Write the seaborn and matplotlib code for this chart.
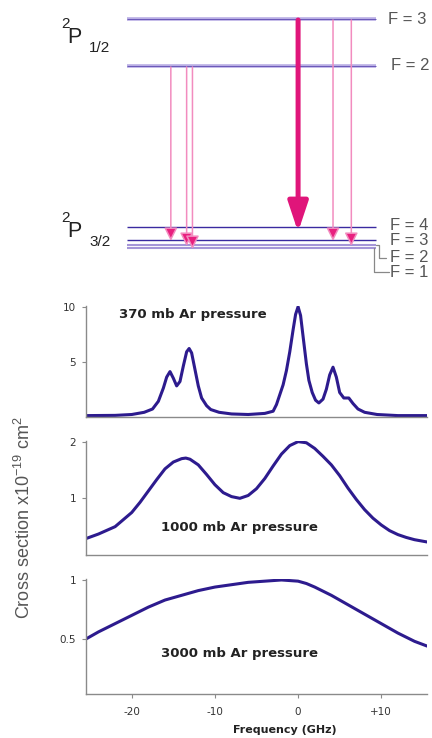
import pandas as pd
import matplotlib.pyplot as plt
import seaborn as sns

# spectra: frequency (GHz) vs cross section (x1e-19 cm^2)
freq_370 = [-25.5, -22, -20, -18.5, -17.5, -16.8, -16.2, -15.8, -15.4, -15.0, -14.6, -14.2,
            -13.8, -13.4, -13.1, -12.8, -12.4, -12.0, -11.6, -11.0, -10.5, -9.5, -8, -6,
            -4, -3, -2.6, -1.8, -1.4, -1.0, -0.6, -0.3, 0.0, 0.3, 0.6, 1.0, 1.3, 1.7,
            2.1, 2.5, 3.0, 3.4, 3.8, 4.2, 4.6, 5.0, 5.5, 6.1, 6.6, 7.2, 8.0, 9.5, 12, 15.5]
xs_370 = [0.1, 0.12, 0.2, 0.4, 0.7, 1.4, 2.6, 3.6, 4.1, 3.5, 2.8, 3.2,
          4.6, 5.9, 6.2, 5.8, 4.3, 2.8, 1.7, 1.0, 0.65, 0.4, 0.25, 0.2,
          0.3, 0.5, 1.1, 2.9, 4.2, 5.9, 7.9, 9.3, 10.0, 9.2, 7.3, 4.8, 3.3, 2.2,
          1.5, 1.25, 1.6, 2.5, 3.8, 4.5, 3.6, 2.2, 1.7, 1.7, 1.2, 0.7, 0.4, 0.2, 0.1, 0.1]

freq_1000 = [-25.5, -24, -22, -20, -19, -18, -17, -16, -15, -14, -13.5, -13, -12, -11,
             -10, -9, -8, -7, -6, -5, -4, -3, -2, -1, 0, 1, 2, 3, 4, 5, 6, 7, 8, 9,
             10, 11, 12, 13, 14, 15.5]
xs_1000 = [0.29, 0.37, 0.5, 0.75, 0.93, 1.13, 1.33, 1.52, 1.64, 1.70, 1.71, 1.69, 1.59, 1.42,
           1.24, 1.10, 1.03, 1.0, 1.05, 1.17, 1.35, 1.57, 1.78, 1.93, 2.0, 1.98, 1.88, 1.74,
           1.59, 1.40, 1.18, 0.98, 0.80, 0.65, 0.53, 0.43, 0.36, 0.31, 0.27, 0.23]

freq_3000 = [-25.5, -24, -22, -20, -18, -16, -14, -12, -10, -8, -6, -4, -2, 0, 1, 2,
             4, 6, 8, 10, 12, 14, 15.5]
xs_3000 = [0.5, 0.56, 0.63, 0.70, 0.77, 0.83, 0.87, 0.91, 0.94, 0.96, 0.98, 0.99, 1.0,
           0.99, 0.97, 0.94, 0.87, 0.79, 0.71, 0.63, 0.55, 0.48, 0.44]

pressure_labels = ["370 mb Ar pressure", "1000 mb Ar pressure", "3000 mb Ar pressure"]

# hyperfine level diagram (level heights in arbitrary diagram units, downwards)
upper_F = [3, 2]
upper_level = [19, 66]
lower_F = [4, 3, 2, 1]
lower_level = [227, 240, 245, 248]
# transitions: frequency offset (GHz), upper F, lower F, strong?
arrow_freq = [-15.3, -13.4, -12.7, 0.0, 4.2, 6.4]
arrow_from = [2, 2, 2, 3, 3, 3]
arrow_to = [3, 2, 1, 4, 3, 2]
arrow_strong = [False, False, False, True, False, False]

sns.set_style("ticks")
plt.rcParams['font.family'] = ['DejaVu Sans']
plt.rcParams['mathtext.default'] = 'regular'

W, H = 432, 738
fig = plt.figure(figsize=(W / 100, H / 100), dpi=100)


def px_axes(l, t, r, b):
    return fig.add_axes([l / W, 1 - b / H, (r - l) / W, (b - t) / H])


def fx(x):
    return x / W


def fy(y):
    return 1 - y / H


XLIM = (-25.5, 15.5)
line_col = "#2d1b8e"
spine_col = "#8a8a8a"

# ---- level diagram ----
ax0 = px_axes(86, 0, 427, 280)
ax0.set_xlim(*XLIM)
ax0.set_ylim(280, 0)
ax0.axis("off")

up = dict(zip(upper_F, upper_level))
lo = dict(zip(lower_F, lower_level))
x0, x1 = -20.6, 9.4
for y in upper_level:
    ax0.hlines(y, x0, x1, color="#b9aee4", lw=2.6)
    ax0.hlines(y, x0, x1, color="#6a58b8", lw=0.7)
for F, y in zip(lower_F, lower_level):
    if F >= 3:
        ax0.hlines(y, x0, x1, color="#3a2aa0", lw=1.0)
    else:
        ax0.hlines(y, x0, x1, color="#a596d8", lw=1.5)

for f, a, b, strong in zip(arrow_freq, arrow_from, arrow_to, arrow_strong):
    if strong:
        props = dict(arrowstyle="-|>,head_length=1.8,head_width=0.6", lw=3.6,
                     color="#e0157a", shrinkA=0, shrinkB=0)
        end = lo[b] + 5
    else:
        props = dict(arrowstyle="-|>,head_length=0.8,head_width=0.4", lw=1.1,
                     ec="#f28cbf", fc="#e8207f", shrinkA=0, shrinkB=0)
        end = lo[b] + 1
    ax0.annotate("", xy=(f, end), xytext=(f, up[a] + 1), arrowprops=props)

lab_kw = dict(fontsize=12, color="#555555", va="center", family="Liberation Sans",
              clip_on=False)
ax0.text(10.8, 19, "F = 3", **lab_kw)
ax0.text(11.2, 66, "F = 2", **lab_kw)
ax0.text(11.1, 225, "F = 4", **lab_kw)
ax0.text(11.1, 240, "F = 3", **lab_kw)
ax0.text(11.1, 257, "F = 2", **lab_kw)
ax0.text(11.1, 272, "F = 1", **lab_kw)
ax0.plot([9.4, 9.7, 9.7, 10.6], [245, 245, 258, 258], color="#888888", lw=0.9,
         clip_on=False)
ax0.plot([9.15, 9.15, 10.9], [248, 272, 272], color="#888888", lw=0.9, clip_on=False)

# term symbols, built from pieces (baseline positions in pixels)
term_kw = dict(color="#222222", family="Liberation Sans", ha="left", va="baseline")
for base, sub in [(43, "1/2"), (237, "3/2")]:
    fig.text(fx(61), fy(base - 15), "2", fontsize=11, **term_kw)
    fig.text(fx(67), fy(base), "P", fontsize=15.5, **term_kw)
    fig.text(fx(89), fy(base + 9), sub, fontsize=11, **term_kw)

# ---- spectra ----
spectra = [(freq_370, xs_370), (freq_1000, xs_1000), (freq_3000, xs_3000)]
boxes = [(305.6, 416.7), (440.5, 555), (578.8, 694.3)]
ylims = [(0, 10.1), (0, 2.02), (0.031, 1.01)]
yticks = [([5, 10], ["5", "10"]), ([1, 2], ["1", "2"]), ([0.5, 1], ["0.5", "1"])]
text_pos = [(-12.65, 9.25), (-7.05, 0.49), (-7.05, 0.373)]

axes = []
for i, ((fr, xs), (t, b)) in enumerate(zip(spectra, boxes)):
    ax = px_axes(86, t, 427, b)
    df = pd.DataFrame({"freq": fr, "xs": xs})
    sns.lineplot(data=df, x="freq", y="xs", ax=ax, color=line_col, lw=2.2)
    ax.set_xlim(*XLIM)
    ax.set_ylim(*ylims[i])
    sns.despine(ax=ax)
    for s in ["left", "bottom"]:
        ax.spines[s].set_color(spine_col)
        ax.spines[s].set_linewidth(1.0)
    ax.set_yticks(yticks[i][0])
    ax.set_yticklabels(yticks[i][1])
    ax.tick_params(axis="y", direction="out", length=3, color=spine_col,
                   labelsize=7.5, labelcolor="#333333", pad=4)
    if i < 2:
        ax.set_xticks([])
    else:
        ax.set_xticks([-20, -10, 0, 10])
        ax.set_xticklabels(["-20", "-10", "0", "+10"])
        ax.tick_params(axis="x", direction="out", length=3, color=spine_col,
                       labelsize=7.5, labelcolor="#333333", pad=6)
    ax.set_xlabel("")
    ax.set_ylabel("")
    tx, ty = text_pos[i]
    ax.text(tx, ty, pressure_labels[i], ha="center", va="center", fontsize=9.5,
            fontweight="bold", color="#222222")
    axes.append(ax)

fig.text(fx(285), fy(730), "Frequency (GHz)", ha="center", va="center",
         fontsize=8, fontweight="bold", color="#222222")
fig.text(fx(24), fy(518), "Cross section x10$^{-19}$ cm$^{2}$", rotation=90,
         ha="center", va="center", fontsize=13, color="#555555",
         family="Liberation Sans")

fig.savefig("out.png", dpi=100)
